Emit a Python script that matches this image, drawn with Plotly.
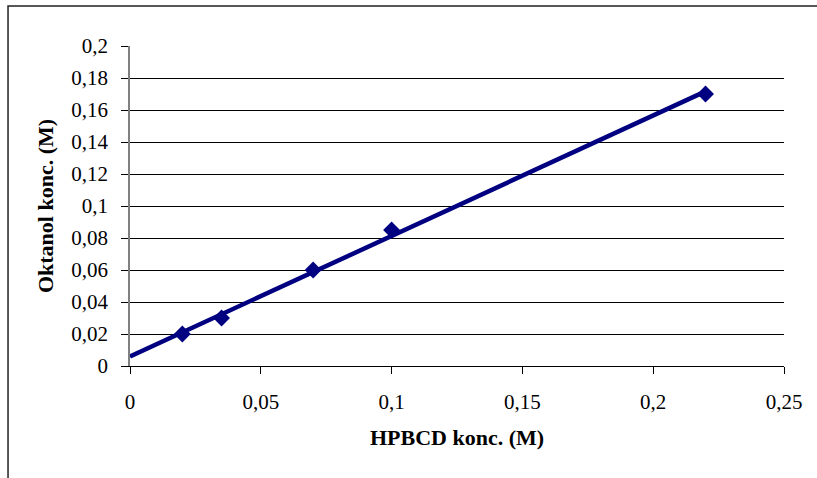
import numpy as np
import plotly.graph_objects as go

# Measured solubility data
hpbcd_conc = [0.02, 0.035, 0.07, 0.1, 0.22]
oktanol_conc = [0.02, 0.03, 0.06, 0.085, 0.17]

# Axis ticks (comma decimal separator)
x_tickvals = [0, 0.05, 0.1, 0.15, 0.2, 0.25]
x_ticktext = ["0", "0,05", "0,1", "0,15", "0,2", "0,25"]
y_tickvals = [0, 0.02, 0.04, 0.06, 0.08, 0.1, 0.12, 0.14, 0.16, 0.18, 0.2]
y_ticktext = ["0", "0,02", "0,04", "0,06", "0,08", "0,1", "0,12", "0,14", "0,16", "0,18", "0,2"]

NAVY = "#000080"
FONT = "Liberation Serif"

# Least-squares linear trendline, drawn from x = 0 to the last point
slope, intercept = np.polyfit(hpbcd_conc, oktanol_conc, 1)
trend_x = [0.0, max(hpbcd_conc)]
trend_y = [intercept + slope * v for v in trend_x]

fig = go.Figure()
fig.add_trace(go.Scatter(
    x=trend_x, y=trend_y, mode="lines",
    line=dict(color=NAVY, width=4.5), hoverinfo="skip", showlegend=False,
))
fig.add_trace(go.Scatter(
    x=hpbcd_conc, y=oktanol_conc, mode="markers",
    marker=dict(symbol="diamond", size=13, color=NAVY),
    showlegend=False,
))

# Outer chart frame
fig.add_shape(type="rect", xref="paper", yref="paper",
              x0=-0.1865, x1=1.2, y0=-0.4, y1=1.125,
              line=dict(color="#222222", width=1.5), layer="below")

fig.update_layout(
    width=817, height=478,
    margin=dict(l=130, r=33, t=46, b=112),
    paper_bgcolor="white", plot_bgcolor="white",
    font=dict(family=FONT, color="black", size=21),
    xaxis=dict(
        range=[0, 0.25], tickvals=x_tickvals, ticktext=x_ticktext,
        showgrid=False, zeroline=False,
        showline=True, linecolor="black", linewidth=1,
        ticks="outside", ticklen=7, tickcolor="black",
        ticklabelstandoff=10,
        title=dict(text="<b>HPBCD konc. (M)</b>", font=dict(family=FONT, size=22), standoff=16),
        tickfont=dict(family=FONT, size=21),
    ),
    yaxis=dict(
        range=[0, 0.2], tickvals=y_tickvals, ticktext=y_ticktext,
        showgrid=True, gridcolor="black", gridwidth=1,
        zeroline=False,
        showline=True, linecolor="#808080", linewidth=1.5,
        ticks="outside", ticklen=7, tickcolor="black",
        ticklabelstandoff=9,
        title=dict(text="<b>Oktanol konc. (M)</b>", font=dict(family=FONT, size=22), standoff=12),
        tickfont=dict(family=FONT, size=21),
    ),
)

fig.write_html("out.html")
